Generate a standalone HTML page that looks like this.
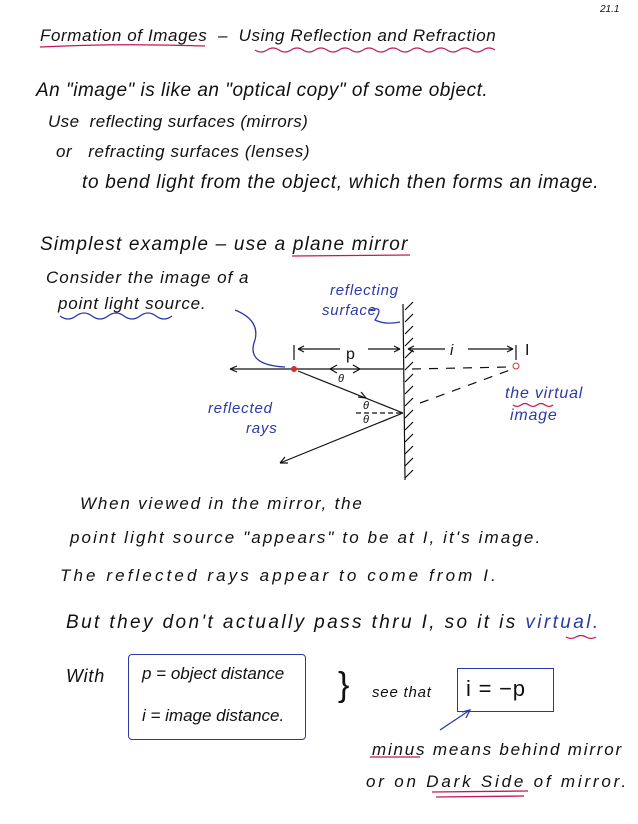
<!DOCTYPE html>
<html><head><meta charset="utf-8"><style>
body{margin:0;width:638px;height:824px;background:#fff;position:relative;overflow:hidden;font-family:"Liberation Sans",sans-serif;color:#111}
.t{position:absolute;white-space:nowrap;font-size:17px;font-style:italic;letter-spacing:0.8px}
.b{color:#2b3aa8}
svg{position:absolute;left:0;top:0}
</style></head><body>
<div class="t" style="left:600px;top:4px;font-size:10px;letter-spacing:0">21.1</div>
<div class="t" style="left:40px;top:26px;font-size:17px;letter-spacing:0.6px">Formation of Images &nbsp;– &nbsp;Using Reflection and Refraction</div>
<div class="t" style="left:36px;top:80px;font-size:19px;letter-spacing:0.5px">An "image" is like an "optical copy" of some object.</div>
<div class="t" style="left:48px;top:112px;letter-spacing:0.4px">Use &nbsp;reflecting surfaces (mirrors)</div>
<div class="t" style="left:56px;top:142px;letter-spacing:0.6px">or &nbsp;&nbsp;refracting surfaces (lenses)</div>
<div class="t" style="left:82px;top:172px;font-size:19px;letter-spacing:0.7px">to bend light from the object, which then forms an image.</div>
<div class="t" style="left:40px;top:234px;font-size:19px;letter-spacing:1.2px">Simplest example – use a plane mirror</div>
<div class="t" style="left:46px;top:268px;letter-spacing:1px">Consider the image of a</div>
<div class="t" style="left:58px;top:294px">point light source.</div>
<div class="t b" style="left:330px;top:282px;font-size:15px">reflecting</div>
<div class="t b" style="left:322px;top:302px;font-size:15px">surface</div>
<div class="t" style="left:346px;top:346px;font-size:16px;font-style:normal">p</div>
<div class="t" style="left:450px;top:342px;font-size:15px">i</div>
<div class="t" style="left:525px;top:342px;font-size:16px;font-style:normal">I</div>
<div class="t" style="left:338px;top:373px;font-size:11px">θ</div>
<div class="t" style="left:363px;top:400px;font-size:11px">θ</div>
<div class="t" style="left:363px;top:414px;font-size:11px">θ</div>
<div class="t b" style="left:208px;top:400px;font-size:15px">reflected</div>
<div class="t b" style="left:246px;top:420px;font-size:15px">rays</div>
<div class="t b" style="left:505px;top:385px;font-size:16px">the virtual</div>
<div class="t b" style="left:510px;top:407px;font-size:16px">image</div>
<div class="t" style="left:80px;top:494px;letter-spacing:1.8px">When viewed in the mirror, the</div>
<div class="t" style="left:70px;top:528px;letter-spacing:2.1px">point light source "appears" to be at I, it's image.</div>
<div class="t" style="left:60px;top:566px;letter-spacing:3.1px">The reflected rays appear to come from I.</div>
<div class="t" style="left:66px;top:612px;font-size:19px;letter-spacing:2.4px">But they don't actually pass thru I, so it is <span style="color:#2b3aa8">virtual.</span></div>
<div class="t" style="left:66px;top:666px;font-size:18px">With</div>
<div style="position:absolute;left:128px;top:654px;width:176px;height:84px;border:1.5px solid #2b3aa8;border-radius:4px"></div>
<div class="t" style="left:142px;top:664px;letter-spacing:0">p = object distance</div>
<div class="t" style="left:142px;top:706px;letter-spacing:0">i = image distance.</div>
<div class="t" style="left:338px;top:666px;font-size:34px;font-style:normal;font-weight:100">}</div>
<div class="t" style="left:372px;top:684px;font-size:15px">see that</div>
<div style="position:absolute;left:457px;top:668px;width:95px;height:42px;border:1.5px solid #2b3aa8"></div>
<div class="t" style="left:466px;top:676px;font-size:22px;font-style:normal">i = −p</div>
<div class="t" style="left:372px;top:740px;letter-spacing:1.8px">minus means behind mirror</div>
<div class="t" style="left:366px;top:772px;letter-spacing:2.8px">or on Dark Side of mirror.</div>
<svg width="638" height="824">
<g fill="none" stroke-width="1.3">
<path d="M40 47 Q120 43 205 46" stroke="#c2185b"/>
<path d="M255 50 q6 4 12 0 t12 0 t12 0 t12 0 t12 0 t12 0 t12 0 t12 0 t12 0 t12 0 t12 0 t12 0 t12 0 t12 0 t12 0 t12 0 t12 0 t12 0 t12 0 t12 0" stroke="#c2185b"/>
<path d="M292 256 L410 255" stroke="#c2185b"/>
<path d="M60 316 q8 6 16 0 t16 0 t16 0 t16 0 t16 0 t16 0 t16 0" stroke="#2b3aa8"/>
<path d="M235 310 q25 10 20 30 q-10 25 30 27" stroke="#2b3aa8"/>
<path d="M370 310 q15 -5 5 10 q10 5 25 2" stroke="#2b3aa8"/>
<path d="M513 405 q4 3 8 0 t8 0 t8 0 t8 0 t8 0" stroke="#c2185b"/>
<path d="M566 637 q5 3 10 0 t10 0 t10 0" stroke="#c2185b"/>
<path d="M370 757 L420 757" stroke="#c2185b"/>
<path d="M432 792 L528 791 M436 797 L524 796" stroke="#c2185b"/>
<path d="M440 730 L470 710 M462 712 L470 710 L466 718" stroke="#2b3aa8"/>
</g>
<g stroke="#111" stroke-width="1.2" fill="none">
<line x1="403" y1="304" x2="405" y2="480"/>
<path d="M405 310 l8 -8 M405 322 l8 -8 M405 334 l8 -8 M405 346 l8 -8 M405 358 l8 -8 M405 370 l8 -8 M405 382 l8 -8 M405 394 l8 -8 M405 406 l8 -8 M405 418 l8 -8 M405 430 l8 -8 M405 442 l8 -8 M405 454 l8 -8 M405 466 l8 -8 M405 478 l8 -8"/>
<line x1="294" y1="345" x2="294" y2="360"/>
<line x1="516" y1="345" x2="516" y2="360"/>
<path d="M298 349 L340 349 M298 349 l6 -3 M298 349 l6 3 M368 349 L400 349 M400 349 l-6 -3 M400 349 l-6 3"/>
<path d="M408 349 L445 349 M408 349 l6 -3 M408 349 l6 3 M468 349 L513 349 M513 349 l-6 -3 M513 349 l-6 3"/>
<line x1="230" y1="369" x2="403" y2="369"/>
<path d="M230 369 l7 -3 M230 369 l7 3 M330 369 l7 -4 M330 369 l7 4 M360 369 l-7 -4 M360 369 l-7 4"/>
<line x1="298" y1="371" x2="403" y2="413"/>
<path d="M366 398 l-8 -1 M366 398 l-5 -6"/>
<line x1="403" y1="413" x2="280" y2="463"/>
<path d="M280 463 l5 -6 M280 463 l8 0"/>
<line x1="356" y1="413" x2="402" y2="413" stroke-dasharray="5,3"/>
<line x1="412" y1="369" x2="510" y2="367" stroke-dasharray="9,8"/>
<line x1="420" y1="403" x2="510" y2="370" stroke-dasharray="9,8"/>
</g>
<circle cx="294" cy="369" r="3" fill="#d32f2f"/>
<circle cx="516" cy="366" r="3" fill="none" stroke="#d32f2f"/>
</svg>
</body></html>
